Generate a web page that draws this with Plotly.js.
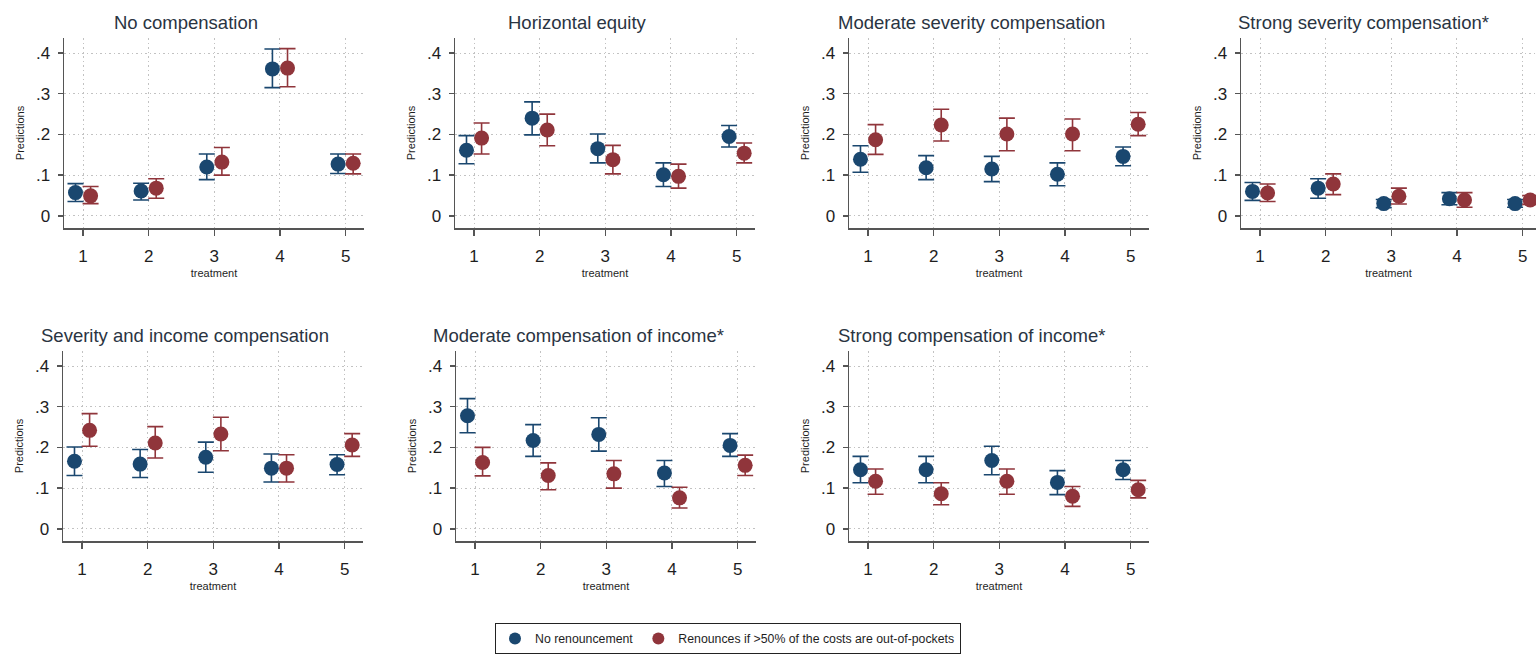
<!DOCTYPE html>
<html>
<head>
<meta charset="utf-8">
<script src="https://cdn.plot.ly/plotly-3.0.1.min.js"></script>
<style>
  html, body { margin: 0; padding: 0; background: #ffffff; }
  #chart { width: 1536px; height: 657px; }
</style>
</head>
<body>
<div id="chart"></div>
<script>
// Predicted probabilities by treatment, one panel per allocation principle
const panelTitles = [
  "No compensation",
  "Horizontal equity",
  "Moderate severity compensation",
  "Strong severity compensation*",
  "Severity and income compensation",
  "Moderate compensation of income*",
  "Strong compensation of income*"
];
const treatments = [1, 2, 3, 4, 5];
const tickLabelsY = ["0", ".1", ".2", ".3", ".4"];
const tickValsY = [0, 0.1, 0.2, 0.3, 0.4];

const seriesNames = ["No renouncement", "Renounces if >50% of the costs are out-of-pockets"];

// "No renouncement" point estimates and 95% CI bounds, one row per panel
const noRenouncement = [
  [0.057, 0.061, 0.120, 0.361, 0.127],
  [0.161, 0.240, 0.165, 0.101, 0.195],
  [0.139, 0.118, 0.115, 0.102, 0.146],
  [0.060, 0.068, 0.030, 0.042, 0.030],
  [0.166, 0.159, 0.176, 0.149, 0.158],
  [0.278, 0.217, 0.232, 0.137, 0.205],
  [0.145, 0.145, 0.168, 0.114, 0.145]
];
const noRenouncementLow = [
  [0.035, 0.039, 0.089, 0.315, 0.104],
  [0.128, 0.199, 0.130, 0.072, 0.169],
  [0.107, 0.089, 0.084, 0.074, 0.123],
  [0.038, 0.043, 0.020, 0.027, 0.021],
  [0.131, 0.126, 0.139, 0.115, 0.133],
  [0.236, 0.178, 0.191, 0.104, 0.178],
  [0.113, 0.113, 0.133, 0.084, 0.121]
];
const noRenouncementHigh = [
  [0.079, 0.080, 0.152, 0.410, 0.152],
  [0.197, 0.280, 0.201, 0.130, 0.222],
  [0.172, 0.148, 0.146, 0.130, 0.169],
  [0.082, 0.091, 0.040, 0.057, 0.040],
  [0.201, 0.195, 0.213, 0.184, 0.182],
  [0.320, 0.256, 0.273, 0.168, 0.234],
  [0.178, 0.178, 0.203, 0.143, 0.168]
];

// "Renounces if >50% of the costs are out-of-pockets" estimates and CI bounds
const renounces = [
  [0.049, 0.068, 0.132, 0.363, 0.129],
  [0.191, 0.211, 0.138, 0.097, 0.154],
  [0.187, 0.223, 0.201, 0.201, 0.225],
  [0.056, 0.078, 0.048, 0.039, 0.039],
  [0.242, 0.211, 0.233, 0.149, 0.206],
  [0.163, 0.131, 0.135, 0.076, 0.156],
  [0.117, 0.086, 0.117, 0.080, 0.096]
];
const renouncesLow = [
  [0.030, 0.043, 0.100, 0.317, 0.103],
  [0.152, 0.172, 0.103, 0.068, 0.130],
  [0.151, 0.184, 0.160, 0.160, 0.197],
  [0.035, 0.052, 0.029, 0.021, 0.028],
  [0.203, 0.174, 0.192, 0.115, 0.178],
  [0.130, 0.096, 0.100, 0.051, 0.131],
  [0.085, 0.059, 0.085, 0.055, 0.076]
];
const renouncesHigh = [
  [0.072, 0.091, 0.168, 0.411, 0.152],
  [0.228, 0.250, 0.173, 0.127, 0.179],
  [0.224, 0.262, 0.240, 0.238, 0.254],
  [0.078, 0.103, 0.068, 0.057, 0.050],
  [0.283, 0.251, 0.274, 0.182, 0.234],
  [0.200, 0.162, 0.168, 0.102, 0.181],
  [0.147, 0.113, 0.147, 0.104, 0.119]
];

// ---- layout geometry (pixels) ----
const W = 1536, H = 657;
const panelLeft = [64, 455, 849, 1241, 63, 456, 849];
const panelWidth = 300;
const rowTop = [38, 351];
const rowBottom = [228, 541];
const dodge = 0.115;

const NAVY = "#1a476f";
const MAROON = "#90353b";
const FONT = "'Liberation Sans', Arial, sans-serif";
const GRID_DASH = "1.5px,3px";

const traces = [];
const layout = {
  width: W,
  height: H,
  margin: { l: 0, r: 0, t: 0, b: 0, pad: 0 },
  paper_bgcolor: "#ffffff",
  plot_bgcolor: "#ffffff",
  font: { family: FONT, color: "#1e1e1e" },
  showlegend: true,
  legend: {
    orientation: "h",
    x: 495 / W,
    y: 1 - 623 / H,
    xanchor: "left",
    yanchor: "top",
    bordercolor: "#222222",
    borderwidth: 1,
    bgcolor: "#ffffff",
    font: { family: FONT, size: 12.3, color: "#1e1e1e" },
    itemsizing: "constant",
    tracegroupgap: 0
  },
  annotations: []
};

function addSeries(axisSuffix, yMean, yLow, yHigh, offset, color, name, showLeg) {
  traces.push({
    type: "scatter",
    mode: "markers",
    name: name,
    showlegend: showLeg,
    legendgroup: name,
    x: treatments.map(t => t + offset),
    y: yMean,
    xaxis: "x" + axisSuffix,
    yaxis: "y" + axisSuffix,
    marker: { color: color, size: 15, line: { width: 0 } },
    error_y: {
      type: "data",
      symmetric: false,
      array: yHigh.map((h, i) => h - yMean[i]),
      arrayminus: yMean.map((m, i) => m - yLow[i]),
      color: color,
      thickness: 1.6,
      width: 8
    },
    hoverinfo: "skip"
  });
}

for (let k = 0; k < panelTitles.length; k++) {
  const row = k < 4 ? 0 : 1;
  const suffix = k === 0 ? "" : String(k + 1);
  const left = panelLeft[k];
  const right = Math.min(left + panelWidth, W);
  const xRangeEnd = 0.71 + (right - left) / panelWidth * (5.28 - 0.71);

  layout["xaxis" + suffix] = {
    domain: [left / W, right / W],
    range: [0.71, xRangeEnd],
    anchor: "y" + suffix,
    tickvals: treatments,
    ticktext: treatments.map(String),
    ticks: "outside",
    ticklen: 6,
    tickwidth: 1.5,
    tickcolor: "#555555",
    tickfont: { family: FONT, size: 17, color: "#1e1e1e" },
    ticklabelstandoff: 6,
    showline: true,
    linecolor: "#555555",
    linewidth: 1.5,
    showgrid: true,
    gridcolor: "#c2c2c2",
    griddash: GRID_DASH,
    gridwidth: 1,
    zeroline: false,
    fixedrange: true,
    title: { text: "treatment", font: { family: FONT, size: 11, color: "#1e1e1e" }, standoff: 4 }
  };
  layout["yaxis" + suffix] = {
    domain: [1 - rowBottom[row] / H, 1 - rowTop[row] / H],
    range: [-0.03, 0.437],
    anchor: "x" + suffix,
    tickvals: tickValsY,
    ticktext: tickLabelsY,
    ticks: "outside",
    ticklen: 5,
    tickwidth: 1.5,
    tickcolor: "#555555",
    tickfont: { family: FONT, size: 17, color: "#1e1e1e" },
    ticklabelstandoff: 4,
    showline: true,
    linecolor: "#555555",
    linewidth: 1.5,
    showgrid: true,
    gridcolor: "#c2c2c2",
    griddash: GRID_DASH,
    gridwidth: 1,
    zeroline: false,
    fixedrange: true,
    title: { text: "Predictions", font: { family: FONT, size: 11, color: "#1e1e1e" }, standoff: 9 }
  };

  layout.annotations.push({
    text: panelTitles[k],
    xref: "paper",
    yref: "paper",
    x: (left + 122) / W,
    y: 1 - (row === 0 ? 22 : 335) / H,
    xanchor: "center",
    yanchor: "middle",
    showarrow: false,
    font: { family: FONT, size: 18.5, color: "#2a3442" }
  });

  addSeries(suffix, noRenouncement[k], noRenouncementLow[k], noRenouncementHigh[k], -dodge, NAVY, seriesNames[0], k === 0);
  addSeries(suffix, renounces[k], renouncesLow[k], renouncesHigh[k], dodge, MAROON, seriesNames[1], k === 0);
}

Plotly.newPlot("chart", traces, layout, { displayModeBar: false, staticPlot: true });
</script>
</body>
</html>
